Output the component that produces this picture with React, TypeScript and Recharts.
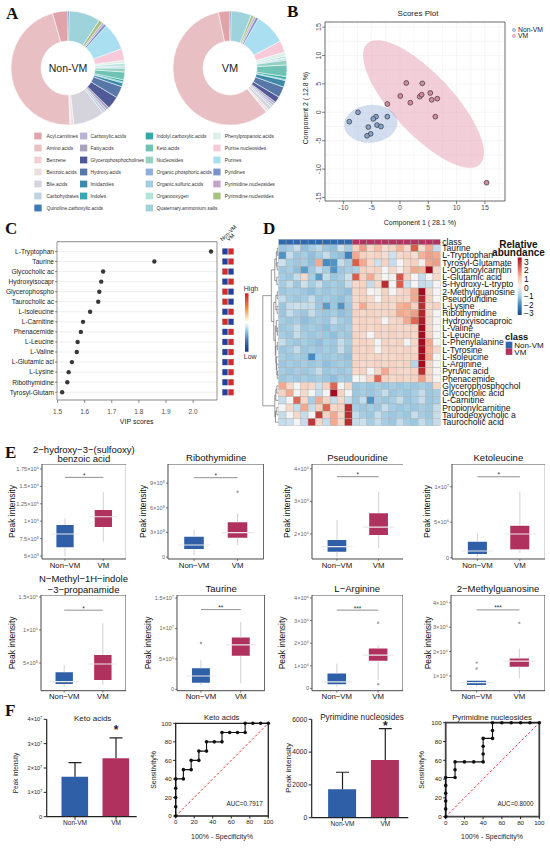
import React from 'react';
import {
  PieChart, Pie, Cell, ScatterChart, Scatter, XAxis, YAxis, CartesianGrid,
  ReferenceArea, ReferenceLine, ComposedChart, Bar, ErrorBar, LineChart, Line,
} from 'recharts';

const FONT = '"Liberation Sans", Arial, Helvetica, sans-serif';
const SERIF = '"Liberation Serif", "Times New Roman", serif';

// ---------------- Panel A data ----------------
const classNames = [
  'Acyl.carnitines', 'Amino.acids', 'Benzene', 'Benzoic.acids', 'Bile.acids', 'Carbohydrates',
  'Carboxylic.acids', 'Fatty.acids', 'Glycerophosphocholines', 'Hydroxy.acids', 'Imidazoles', 'Indoles',
  'Indolyl.carboxylic.acids', 'Keto.acids', 'Nucleosides', 'Organic.phosphoric.acids', 'Organic.sulfuric.acids',
  'Organooxygen', 'Phenylpropanoic.acids', 'Purine.nucleosides', 'Purines', 'Pyridines', 'Pyrimidine.nucleosides',
  'Pyrimidine.nucleotides', 'Quaternary.ammonium.salts', 'Quinoline.carboxylic.acids',
];
const classColors = [
  '#e0a3aa', '#e8c0c4', '#f2cfd2', '#ecdfe2', '#d5d3dc', '#bfd3e3',
  '#bbb3d6', '#a9a3bf', '#4f5a96', '#5677a8', '#3d8aa8', '#37a9b3',
  '#34aaa5', '#6fc2b4', '#94d1c3', '#8eaedb', '#a5cbe3',
  '#b3e3da', '#d9f1ea', '#f7c9d9', '#a9dff0', '#7b93c9', '#c5a3cb',
  '#a6c27f', '#9fd3dc', '#3b7cb8',
];
const nonVmShare = [4.4, 46.1, 0.3, 0.8, 8.9, 0.8, 0.6, 0.8, 3.6, 3.3, 1.1, 0.3, 0.6, 2.2, 1.1, 0.3, 0.3, 0.8, 0.8, 3.3, 7.8, 0.8, 0.6, 1.1, 8.9, 0.3];
const vmShare = [3.3, 57.8, 0.3, 0.6, 1.1, 0.6, 0.6, 0.6, 1.7, 3.1, 1.9, 0.3, 0.8, 3.3, 1.4, 0.3, 0.3, 0.6, 1.1, 3.3, 8.9, 0.8, 0.6, 0.8, 5.8, 0.3];
const legendColumns = [[0, 1, 2, 3, 4, 5, 25], [6, 7, 8, 9, 10, 11], [12, 13, 14, 15, 16, 17, 24], [18, 19, 20, 21, 22, 23]];

// ---------------- Panel B data ----------------
const nonVmScoreX = [-8.96, -7.42, -4.24, -4.72, -2.24, -5.6, -4.06, -3.36, -5.18, -5.83];
const nonVmScoreY = [-1.65, 0.0, -0.77, -1.17, -0.77, -2.6, -2.25, -2.5, -3.8, -4.15];
const vmScoreX = [-2.24, 0.05, 1.11, 1.82, 3.48, 3.83, 3.94, 5.35, 5.6, 6.59, 6.24, 15.3];
const vmScoreY = [1.46, 2.87, 5.16, 1.69, 2.75, 3.1, 5.1, 3.4, 2.2, 2.4, -0.77, -12.4];
const ellipseNonVm = { x: -5.16, y: -2.02, a: 4.73, b: 3.32, rot: -5 };
const ellipseVm = { x: 4.15, y: 1.46, a: 14.6, b: 5.3, rot: 47 };
const bXTicks = [-10, -5, 0, 5, 10, 15];
const bYTicks = [-15, -10, -5, 0, 5, 10, 15];
const bGridX = [-12.5, -10, -7.5, -5, -2.5, 0, 2.5, 5, 7.5, 10, 12.5, 15, 17.5];
const bGridY = [-15, -12.5, -10, -7.5, -5, -2.5, 0, 2.5, 5, 7.5, 10, 12.5, 15];
const B_X = [-13.25, 18.55];
const B_Y = [-15.62, 15.9];

// ---------------- Panel C data ----------------
const vipNames = ['L-Tryptophan', 'Taurine', 'Glycocholic ac', 'Hydroxyisocapr', 'Glycerophospho', 'Taurocholic ac', 'L-Isoleucine', 'L-Carnitine', 'Phenacemide', 'L-Leucine', 'L-Valine', 'L-Glutamic aci', 'L-Lysine', 'Ribothymidine', 'Tyrosyl-Glutam'];
const vipScores = [2.066, 1.857, 1.668, 1.661, 1.654, 1.65, 1.62, 1.594, 1.586, 1.574, 1.571, 1.553, 1.541, 1.536, 1.517];
const vipHigherIn = ['VM', 'VM', 'Non-VM', 'VM', 'Non-VM', 'Non-VM', 'VM', 'Non-VM', 'VM', 'VM', 'VM', 'VM', 'VM', 'VM', 'VM'];
const vipTicks = [1.5, 1.6, 1.7, 1.8, 1.9, 2.0];
const C_X = [1.498, 2.088];
const C_Y = [-0.97, 14.77];

// ---------------- Panel D data ----------------
const heatRowNames = ['Taurine', 'L-Tryptophan', 'Tyrosyl-Glutamate', 'L-Octanoylcarnitin', 'L-Glutamic acid', '5-Hydroxy-L-trypto', '2-Methylguanosine', 'Pseudouridine', 'L-Lysine', 'Ribothymidine', 'Hydroxyisocaproic', 'L-Valine', 'L-Leucine', 'L-Phenylalanine', 'L-Tyrosine', 'L-Isoleucine', 'L-Arginine', 'Pyruvic acid', 'Phenacemide', 'Glycerophosphochol', 'Glycocholic acid', 'L-Carnitine', 'Propionylcarnitine', 'Taurodeoxycholic a', 'Taurocholic acid'];
const heatNonVm = [
  [-1.1, -1.0, -0.6, -1.2, -1.0, -0.7, -1.1, -1.2, -0.5, -1.0],
  [-1.8, -0.6, -1.1, -1.0, -1.2, -1.0, -0.6, -1.1, -1.2, -2.0],
  [-0.5, -1.0, -1.1, -1.0, -1.2, 1.2, -1.9, -1.8, -0.6, -1.0],
  [-1.1, -1.0, -1.2, -1.7, -1.1, -0.6, -1.0, -1.8, -1.1, -1.0],
  [-1.0, -1.1, -0.6, 0.5, -1.0, -1.7, -0.6, -1.1, -1.0, -0.5],
  [-1.0, -0.6, -1.1, -0.5, -1.0, -0.6, -1.1, -1.0, -1.1, -0.6],
  [-1.1, -1.0, -1.0, -1.1, -1.2, -1.0, -1.1, -1.0, -1.1, -1.2],
  [-0.6, -1.0, -1.1, -1.0, -0.6, -1.1, -1.0, -1.1, -1.2, -1.0],
  [-1.1, -0.6, -0.5, -0.6, -0.6, -1.1, -1.7, -1.1, -1.8, -1.1],
  [-1.1, -0.6, -1.0, -1.1, -0.6, -1.0, -1.1, -1.0, -1.2, -1.1],
  [-1.0, -1.1, -1.0, -1.2, -1.1, -1.0, -1.1, -0.6, -1.0, -1.1],
  [-1.1, -1.0, -0.6, -1.1, -1.0, -1.1, -1.2, -1.0, -1.1, -1.0],
  [-1.0, -1.1, -0.6, -1.0, -1.1, -1.0, -1.1, -1.2, -1.0, -1.1],
  [-0.6, -1.0, -1.1, -1.0, -1.1, -1.2, -1.0, -1.1, -0.6, -1.0],
  [-1.1, -1.0, -0.6, -1.1, -1.0, -1.1, -1.0, -1.1, -0.6, -1.1],
  [-1.0, -1.1, -1.0, -1.1, -1.9, -1.0, -1.1, -1.0, -1.1, -1.2],
  [-1.1, -1.0, -1.1, -1.0, -1.1, -1.0, -1.2, -1.1, -1.0, -1.1],
  [-1.0, -1.1, -1.0, -1.1, -1.0, -0.6, -1.1, -1.0, -1.1, -1.0],
  [-1.1, -1.0, -1.1, -1.0, -1.1, -1.0, -1.1, -1.2, -1.0, -1.1],
  [1.2, 0.5, 0.0, 0.6, 0.5, -0.5, 0.6, 1.9, 0.0, 0.5],
  [0.6, 1.2, 0.0, 0.5, 0.0, -0.6, 0.0, 3.2, 0.6, 0.0],
  [-0.6, 0.0, 1.9, 0.5, -1.0, 1.2, 0.6, -0.6, 0.5, -0.6],
  [0.0, 0.5, -0.6, 1.2, -0.6, 0.6, 1.9, 0.5, 0.6, 2.6],
  [-0.6, 0.0, 0.5, -0.6, 0.0, 2.4, 0.6, 1.2, 0.5, 2.6],
  [-0.6, -0.5, 0.0, -0.6, 2.5, 0.5, -0.6, 1.2, 0.5, 2.6],
];
const heatVm = [
  [0.6, 1.3, 0.5, 1.0, 0.4, 0.6, 1.1, 0.5, 2.0, 0.4, 1.2, -0.6],
  [1.2, 0.6, 0.5, 0.6, 0.4, -0.5, 0.5, 0.6, 0.4, 1.1, 1.3, 1.2],
  [2.0, 1.2, 0.5, -0.5, 0.6, -0.6, 0.0, 0.5, 0.6, 0.1, 1.2, 1.3],
  [-0.9, 0.6, 0.5, 0.6, 0.0, 0.5, 0.1, 0.6, 1.2, 1.1, 3.3, 0.5],
  [2.0, 0.6, 1.2, 0.5, 0.0, 0.1, 2.1, 0.6, 0.0, -0.6, 0.0, 0.5],
  [0.5, 0.6, -0.6, 0.5, 2.6, 0.0, 2.0, -0.5, 0.0, -0.6, -0.5, 0.0],
  [0.5, 0.6, 0.0, 0.1, 0.6, 0.0, 0.5, 0.6, 1.2, 3.3, 0.5, 0.0],
  [0.5, 0.6, 0.5, 0.0, 0.6, 0.5, 0.6, 0.5, 1.2, 2.7, 0.6, 0.0],
  [0.5, 1.2, 0.6, 0.5, 0.6, 0.5, 1.1, 1.2, 0.6, 2.6, 0.5, 0.6],
  [0.6, 0.5, 0.6, 0.5, 0.5, 0.6, 1.2, 1.1, 1.3, 2.7, 0.5, 0.0],
  [0.5, 0.6, 0.5, 0.6, 0.0, 0.5, 0.6, 1.2, 1.9, 2.8, 0.5, 0.0],
  [0.5, 0.6, 0.5, 0.6, 0.5, 0.6, 0.5, 0.5, 0.6, 3.3, 0.5, 0.0],
  [0.6, 0.5, 0.0, 0.6, 0.5, 0.6, 0.5, 0.6, 0.5, 3.3, 0.6, 0.0],
  [0.5, 0.6, 0.5, 0.0, 0.6, 0.5, 0.6, 0.0, 0.5, 3.2, 1.2, 0.0],
  [0.6, 0.5, 0.6, 0.0, 0.5, 0.6, 0.5, 0.6, 0.5, 3.2, 1.1, 0.5],
  [0.5, 0.6, 0.5, 0.6, 0.5, 0.5, 0.6, 0.5, 0.6, 3.3, 1.2, 0.0],
  [0.6, 0.5, 0.5, 0.6, 0.5, 0.6, 0.5, 0.6, -0.8, 3.2, 0.5, 0.0],
  [0.5, 0.6, 0.0, 0.5, 1.2, 0.6, 0.5, 0.5, 0.6, 2.6, 0.5, 0.0],
  [0.0, 0.1, 0.5, 1.9, 0.6, 0.5, 0.6, 0.5, 0.6, 1.3, 0.5, 0.0],
  [-1.1, -1.0, -1.1, -1.0, -1.1, -1.0, -1.1, -1.0, -1.1, -1.0, -1.1, 0.5],
  [-1.1, -1.0, -1.1, -1.0, -0.6, -1.1, -1.0, -1.1, -1.0, -0.6, -1.1, -1.0],
  [-1.1, -0.6, -1.8, -1.0, -1.1, -1.0, -0.6, -1.1, -1.0, -0.6, -1.1, -1.0],
  [-1.0, -1.1, -1.0, -1.1, -0.6, -1.0, -1.1, -1.0, -1.1, -1.0, -1.1, -0.6],
  [-0.6, -1.0, -1.1, -0.6, -1.0, -1.1, -1.0, -1.1, -0.6, -1.0, -1.1, -0.6],
  [-0.6, -0.5, -1.0, -0.6, -1.0, -1.1, -0.6, -1.0, -1.1, -0.6, -1.0, -0.6],
];
const heatLegendTicks = [3, 2, 1, 0, -1, -2, -3];
const heatStops: [number, string][] = [[-3, '#1d4a87'], [-2, '#3d84bf'], [-1, '#a5cee4'], [0, '#f4f4f4'], [1, '#f8bba1'], [2, '#d95f4b'], [3, '#a10d1e']];
const classBarColors = ['#2f69ad', '#b2335f'];
type DNode = number | [number, DNode, DNode];
const dendroTop: DNode = [7, [3.5, [2, [1, 0, 1], [1.2, 2, 3]], [1.5, 4, 5]], [4.5, [2.5, [1, 6, 7], [1.2, 8, 9]], [3, [2, 10, [1, 11, 12]], [2.5, [1, 13, 14], [2, 15, [1.5, 16, [1, 17, 18]]]]]]];
const dendroBottom: DNode = [3.5, [2.5, [1.5, 19, 20], 21], [2.8, [1.5, 22, 23], 24]];
const dendroRoot: DNode = [15.5, dendroTop, dendroBottom];

// ---------------- Panel E data ----------------
const boxGroups = ['Non−VM', 'VM'];
const boxColors = ['#2f5fa7', '#b0305e'];
const boxTitles = [['2−hydroxy−3−(sulfooxy)', 'benzoic acid'], ['Ribothymidine'], ['Pseudouridine'], ['Ketoleucine'], ['N−Methyl−1H−indole', '−3−propanamide'], ['Taurine'], ['L−Arginine'], ['2−Methylguanosine']];
// [min, q1, median, q3, max]
const hsbaStats = [[5.0e5, 6.25e5, 8.16e5, 9.45e5, 1.04e6], [7.05e5, 9.17e5, 1.065e6, 1.16e6, 1.42e6]];
const ribStats = [[0.25e5, 0.98e5, 1.46e5, 2.48e5, 3.3e5], [1.46e5, 2.36e5, 2.97e5, 4.23e5, 5.3e5]];
const pseStats = [[1.28e6, 1.455e6, 1.61e6, 1.815e6, 2.43e6], [1.56e6, 1.97e6, 2.21e6, 2.64e6, 3.3e6]];
const ketStats = [[0.14e6, 0.52e6, 0.94e6, 2.25e6, 3.4e6], [0.7e6, 1.18e6, 3.34e6, 4.5e6, 9.3e6]];
const nmiStats = [[1.4e5, 1.82e5, 2.17e5, 3.6e5, 4.7e5], [1.67e5, 2.42e5, 4.85e5, 6.2e5, 1.1e6]];
const tauStats = [[0.7e6, 1.09e6, 2.19e6, 3.46e6, 4.8e6], [1.0e6, 5.5e6, 7.3e6, 8.5e6, 11.1e6]];
const argStats = [[0.07e6, 0.19e6, 0.29e6, 0.66e6, 1.1e6], [0.37e6, 1.22e6, 1.47e6, 1.77e6, 1.92e6]];
const mguStats = [[0.56e4, 0.63e4, 0.73e4, 0.81e4, 0.84e4], [0.9e4, 1.38e4, 1.61e4, 1.72e4, 2.13e4]];
const boxStats = [hsbaStats, ribStats, pseStats, ketStats, nmiStats, tauStats, argStats, mguStats];
const boxOutliers: number[][][] = [[], [[1, 7.96e5]], [], [], [], [[0, 7.6e6]], [[1, 2.9e6], [1, 0.19e6]], [[0, 1.55e4], [0, 1.31e4], [1, 3.18e4]]];
const boxSig = [1.63e6, 9.67e5, 3.76e6, 11.4e6, 1.3e6, 13.1e6, 3.46e6, 3.71e4];
const boxStars = ['*', '*', '*', '*', '*', '**', '***', '***'];
const boxDomains = [[4.57e5, 1.822e6], [-0.24e5, 11.34e5], [1.23e6, 4.15e6], [-0.18e6, 13.2e6], [0.08e6, 1.53e6], [-0.23e6, 15.5e6], [-0.1e6, 4.13e6], [0.4e4, 4.32e4]];
const boxTicks = [[5e5, 7.5e5, 1e6, 1.25e6, 1.5e6, 1.75e6], [0, 3e5, 6e5, 9e5], [2e6, 3e6, 4e6], [0, 5e6, 1e7], [5e5, 1e6, 1.5e6], [0, 5e6, 1e7, 1.5e7], [0, 1e6, 2e6, 3e6, 4e6], [1e4, 2e4, 3e4, 4e4]];
const boxPlots = [
  { l: 41.7, r: 126, t: 464, b: 559 }, { l: 168.3, r: 264, t: 464, b: 559 },
  { l: 311.7, r: 403.3, t: 464, b: 559 }, { l: 451.7, r: 545, t: 464, b: 559 },
  { l: 41, r: 126, t: 595, b: 690.7 }, { l: 177.3, r: 265, t: 595, b: 690.7 },
  { l: 311.7, r: 402.7, t: 595, b: 690.7 }, { l: 451, r: 545, t: 595, b: 690.7 },
];
const boxYLabelX = [11.7, 143.3, 286.7, 426.7, 11.7, 148.3, 281.7, 428.3];

// ---------------- Panel F data ----------------
const fGroups = ['Non-VM', 'VM'];
const ketoMean = [1.64e7, 2.4e7];
const ketoSd = [0.58e7, 0.84e7];
const ketoStarY = 3.68e7;
const pyrMean = [1730, 3520];
const pyrSd = [1040, 1910];
const pyrStarY = 5756;
const rocKetoFpr = [0, 0, 0, 0, 0, 8.3, 8.3, 16.7, 16.7, 25, 25, 33.3, 33.3, 41.7, 50, 50, 58.3, 66.7, 75, 75, 83.3, 91.7, 100];
const rocKetoTpr = [0, 10, 20, 30, 40, 40, 50, 50, 60, 60, 70, 70, 80, 80, 80, 90, 90, 90, 90, 100, 100, 100, 100];
const rocPyrFpr = [0, 0, 0, 0, 0, 0, 10, 10, 10, 20, 30, 40, 40, 40, 40, 50, 50, 50, 60, 70, 80, 90, 100];
const rocPyrTpr = [0, 8.3, 16.7, 25, 33.3, 41.7, 41.7, 50, 58.3, 58.3, 58.3, 58.3, 66.7, 75, 83.3, 83.3, 91.7, 100, 100, 100, 100, 100, 100];
const rocTicks = [0, 20, 40, 60, 80, 100];

// ---------------- helpers ----------------
const SUPERS: any = { '0': '⁰', '1': '¹', '2': '²', '3': '³', '4': '⁴', '5': '⁵', '6': '⁶', '7': '⁷', '8': '⁸', '9': '⁹', '-': '⁻' };
function sci(v: number): string {
  if (v === 0) return '0';
  const e = Math.floor(Math.log10(Math.abs(v)) + 1e-9);
  const m = Math.round((v / Math.pow(10, e)) * 100) / 100;
  const sup = String(e).split('').map((c) => SUPERS[c]).join('');
  return `${m}×10${sup}`;
}
function hexToRgb(h: string) { return [parseInt(h.slice(1, 3), 16), parseInt(h.slice(3, 5), 16), parseInt(h.slice(5, 7), 16)]; }
function heatColor(v: number): string {
  const x = Math.max(-3, Math.min(3, v));
  for (let i = 0; i < heatStops.length - 1; i++) {
    const [a, ca] = heatStops[i];
    const [b, cb] = heatStops[i + 1];
    if (x >= a && x <= b) {
      const t = (x - a) / (b - a);
      const A = hexToRgb(ca), B = hexToRgb(cb);
      const c = A.map((q, k) => Math.round(q + (B[k] - q) * t));
      return `rgb(${c[0]},${c[1]},${c[2]})`;
    }
  }
  return heatStops[heatStops.length - 1][1];
}

const Abs = ({ l, t, w, h, children }: any) => (
  <div style={{ position: 'absolute', left: l, top: t, width: w, height: h }}>{children}</div>
);

const SciTick = (props: any) => {
  const { x, y, payload, fs = 5.8, fill = '#333' } = props;
  return (
    <text x={x} y={y} dy={fs * 0.35} textAnchor="end" fontSize={fs} fill={fill} fontFamily={FONT}>{sci(payload.value)}</text>
  );
};
const RotTick = (p: any) => (
  <text x={0} y={0} transform={`translate(${p.x},${p.y}) rotate(-90)`} textAnchor="middle" fontSize={7} fill="#4d4d4d" fontFamily={FONT}>{p.payload.value}</text>
);
const NameTick = (props: any) => {
  const { x, y, payload, names, anchor = 'end', fs = 7, fill = '#222' } = props;
  return (
    <text x={x} y={y} dy={fs * 0.35} textAnchor={anchor} fontSize={fs} fill={fill} fontFamily={FONT}>{names[payload.value]}</text>
  );
};

// ---------------- Panel A ----------------
function PanelA() {
  const nv = classNames.map((n, i) => ({ name: n, value: nonVmShare[i] }));
  const vm = classNames.map((n, i) => ({ name: n, value: vmShare[i] }));
  return (
    <Abs l={0} t={0} w={300} h={130}>
      <PieChart width={300} height={130} margin={{ top: 0, right: 0, bottom: 0, left: 0 }}>
        <Pie data={nv} dataKey="value" nameKey="name" cx={68} cy={68} innerRadius={27} outerRadius={57} startAngle={90} endAngle={450} stroke="#ffffff" strokeWidth={0.5} isAnimationActive={false}>
          {nv.map((d, i) => <Cell key={i} fill={classColors[i]} />)}
        </Pie>
        <Pie data={vm} dataKey="value" nameKey="name" cx={230} cy={68} innerRadius={27} outerRadius={57} startAngle={90} endAngle={450} stroke="#ffffff" strokeWidth={0.5} isAnimationActive={false}>
          {vm.map((d, i) => <Cell key={i} fill={classColors[i]} />)}
        </Pie>
      </PieChart>
    </Abs>
  );
}

// ---------------- Panel B ----------------
function PanelB() {
  const nv = nonVmScoreX.map((x, i) => ({ x, y: nonVmScoreY[i] }));
  const vm = vmScoreX.map((x, i) => ({ x, y: vmScoreY[i] }));
  const kx = 180 / (B_X[1] - B_X[0]);
  const ky = 179 / (B_Y[1] - B_Y[0]);
  const ell = (fill: string, op: number) => (p: any) => (
    <ellipse cx={p.cx} cy={p.cy} rx={p.payload.a * kx} ry={p.payload.b * ky} transform={`rotate(${p.payload.rot} ${p.cx} ${p.cy})`} fill={fill} fillOpacity={op} />
  );
  const dot = (fill: string) => (p: any) => <circle cx={p.cx} cy={p.cy} r={2.4} fill={fill} stroke="#333" strokeWidth={0.7} />;
  return (
    <Abs l={280} t={0} w={270} h={235}>
      <ScatterChart width={270} height={235} margin={{ top: 22, right: 45, bottom: 14, left: 15 }}>
        <CartesianGrid stroke="#ececec" strokeWidth={0.5} verticalValues={bGridX} horizontalValues={bGridY} />
        <XAxis type="number" dataKey="x" domain={B_X} ticks={bXTicks} allowDataOverflow height={20} tickSize={3} tickMargin={1.5} axisLine={false} tickLine={{ stroke: '#333', strokeWidth: 0.6 }} tick={{ fontSize: 7, fill: '#4d4d4d', fontFamily: FONT }} interval={0} />
        <YAxis type="number" dataKey="y" domain={B_Y} ticks={bYTicks} allowDataOverflow width={30} tickSize={3} tickMargin={1} axisLine={false} tickLine={{ stroke: '#333', strokeWidth: 0.6 }} tick={<RotTick />} interval={0} />
        <Scatter data={[ellipseVm]} shape={ell('#e8a8b8', 0.55)} isAnimationActive={false} />
        <Scatter data={[ellipseNonVm]} shape={ell('#9bb5dc', 0.45)} isAnimationActive={false} />
        <Scatter data={nv} shape={dot('#86a2cf')} isAnimationActive={false} />
        <Scatter data={vm} shape={dot('#d98aa2')} isAnimationActive={false} />
        <ReferenceArea x1={B_X[0]} x2={B_X[1]} y1={B_Y[0]} y2={B_Y[1]} fill="none" stroke="#444" strokeWidth={0.8} ifOverflow="visible" />
      </ScatterChart>
    </Abs>
  );
}

// ---------------- Panel C ----------------
function PanelC() {
  const vipData = vipScores.map((v, i) => ({ vip: v, row: i }));
  const squares = vipHigherIn.flatMap((g, i) => [
    { col: 0, row: i, high: g === 'Non-VM' },
    { col: 1, row: i, high: g === 'VM' },
  ]);
  const rows = vipNames.map((_, i) => i);
  return (
    <>
      <Abs l={0} t={230} w={245} h={195}>
        <ScatterChart width={245} height={195} margin={{ top: 11.7, right: 28, bottom: 0, left: 0 }}>
          <CartesianGrid vertical={false} stroke="#e4e4e4" strokeWidth={0.6} />
          <XAxis type="number" dataKey="vip" domain={C_X} ticks={vipTicks} allowDataOverflow height={25} tickSize={3} tickMargin={6} axisLine={false} tickLine={{ stroke: '#444', strokeWidth: 0.6 }} tick={{ fontSize: 6.5, fill: '#4d4d4d', fontFamily: FONT }} tickFormatter={(v: number) => v.toFixed(1)} interval={0} />
          <YAxis type="number" dataKey="row" domain={C_Y} ticks={rows} reversed allowDataOverflow width={57} tickSize={2} tickMargin={1} axisLine={false} tickLine={{ stroke: '#444', strokeWidth: 0.6 }} tick={<NameTick names={vipNames} anchor="end" fs={6.6} fill="#222" />} interval={0} />
          <ReferenceArea x1={C_X[0]} x2={C_X[1]} y1={C_Y[0]} y2={C_Y[1]} fill="none" stroke="#666" strokeWidth={0.7} ifOverflow="visible" />
          <Scatter data={vipData} shape={(p: any) => <circle cx={p.cx} cy={p.cy} r={2.2} fill="#383838" />} isAnimationActive={false} />
        </ScatterChart>
      </Abs>
      <Abs l={219.3} t={230} w={18} h={195}>
        <ScatterChart width={18} height={195} margin={{ top: 11.7, right: 0, bottom: 25, left: 0 }}>
          <XAxis type="number" dataKey="col" domain={[-1, 2]} hide />
          <YAxis type="number" dataKey="row" domain={C_Y} reversed hide />
          <Scatter data={squares} isAnimationActive={false} shape={(p: any) => (
            <rect x={p.cx - 2.7} y={p.cy - 3} width={5.4} height={6} fill={p.payload.high ? '#d42a2a' : '#2240a0'} stroke="#999" strokeWidth={0.2} />
          )} />
        </ScatterChart>
      </Abs>
    </>
  );
}

// ---------------- Panel D ----------------
const CLASS_ROW = -0.845;
function PanelD() {
  const cells = heatRowNames.flatMap((_, r) => [...heatNonVm[r], ...heatVm[r]].map((v, c) => ({ col: c, row: r, v })));
  const classCells = Array.from({ length: 22 }, (_, c) => ({ col: c, row: CLASS_ROW, g: c < heatNonVm[0].length ? 0 : 1 }));
  const rows = heatRowNames.map((_, i) => i);
  const cw = 161.6 / 22;
  const ch = 7.25;
  return (
    <Abs l={262} t={230} w={268.3} h={196}>
      <ScatterChart width={268.3} height={196} margin={{ top: 7.975, right: 0, bottom: 0.25, left: 16.7 }}>
        <XAxis type="number" dataKey="col" domain={[-0.5, 21.5]} hide />
        <YAxis type="number" dataKey="row" orientation="right" domain={[-1.4, 24.5]} ticks={rows} reversed width={90} tickSize={0} tickMargin={2} axisLine={false} tickLine={false} tick={<NameTick names={heatRowNames} anchor="start" fs={8.6} fill="#111" />} interval={0} />
        <Scatter data={cells} isAnimationActive={false} shape={(p: any) => (
          <rect x={p.cx - cw / 2} y={p.cy - ch / 2} width={cw} height={ch} fill={heatColor(p.payload.v)} stroke="#a9a9a9" strokeWidth={0.35} />
        )} />
        <Scatter data={classCells} isAnimationActive={false} shape={(p: any) => (
          <rect x={p.cx - cw / 2} y={p.cy - 2.65} width={cw} height={5.3} fill={classBarColors[p.payload.g]} stroke="#a9a9a9" strokeWidth={0.35} />
        )} />
      </ScatterChart>
    </Abs>
  );
}

// ---------------- Panel E ----------------
function BoxPanel({ idx }: { idx: number }) {
  const p = boxPlots[idx];
  const stats = boxStats[idx];
  const YW = 32;
  const XH = 16;
  const left = p.l - YW;
  const width = p.r - left;
  const height = p.b - p.t + XH;
  const unit = (p.r - p.l) / 2.2;
  const boxW = 0.75 * unit;
  const data = stats.map((s, g) => ({ x: g + 1, box: [s[1], s[3]], q1: s[1], q3: s[3], med: s[2], up: [0, s[4] - s[3]], lo: [s[1] - s[0], 0] }));
  const outs = boxOutliers[idx].map(([g, v]) => ({ x: g + 1, y: v }));
  const sigPt = [{ x: 1.5, y: boxSig[idx] }];
  const dom = boxDomains[idx];
  return (
    <Abs l={left} t={p.t} w={width} h={height}>
      <ComposedChart width={width} height={height} data={data} margin={{ top: 0, right: 0, bottom: 0, left: 0 }}>
        <XAxis type="number" dataKey="x" domain={[0.4, 2.6]} ticks={[1, 2]} allowDataOverflow height={XH} tickSize={2} tickMargin={1} axisLine={false} tickLine={{ stroke: '#333', strokeWidth: 0.6 }} tick={{ fontSize: 7.8, fill: '#111', fontFamily: FONT }} tickFormatter={(v: number) => boxGroups[v - 1]} interval={0} />
        <YAxis type="number" domain={dom} ticks={boxTicks[idx]} allowDataOverflow width={YW} tickSize={2} tickMargin={1} axisLine={false} tickLine={{ stroke: '#333', strokeWidth: 0.6 }} tick={<SciTick fs={5.6} />} interval={0} />
        <Scatter dataKey="q3" shape={() => <g />} isAnimationActive={false}>
          <ErrorBar dataKey="up" direction="y" width={0} stroke="#cccccc" strokeWidth={0.9} />
        </Scatter>
        <Scatter dataKey="q1" shape={() => <g />} isAnimationActive={false}>
          <ErrorBar dataKey="lo" direction="y" width={0} stroke="#cccccc" strokeWidth={0.9} />
        </Scatter>
        <Bar dataKey="box" barSize={boxW} isAnimationActive={false}>
          {data.map((d, i) => <Cell key={i} fill={boxColors[i]} />)}
        </Bar>
        <Scatter dataKey="med" isAnimationActive={false} shape={(s: any) => (
          <line x1={s.cx - boxW / 2} x2={s.cx + boxW / 2} y1={s.cy} y2={s.cy} stroke="#e9e9e9" strokeWidth={1.1} />
        )} />
        <Scatter data={outs} dataKey="y" isAnimationActive={false} shape={(s: any) => <circle cx={s.cx} cy={s.cy} r={1.2} fill="#a6a6a6" />} />
        <ReferenceLine segment={[{ x: 1, y: boxSig[idx] }, { x: 2, y: boxSig[idx] }]} stroke="#444" strokeWidth={0.6} />
        <Scatter data={sigPt} dataKey="y" isAnimationActive={false} shape={(s: any) => (
          <text x={s.cx} y={s.cy + 0.5} textAnchor="middle" fontSize={6.5} fill="#333" fontFamily={FONT}>{boxStars[idx]}</text>
        )} />
        <ReferenceArea x1={0.4} x2={2.6} y1={dom[0]} y2={dom[1]} fill="none" stroke="#333" strokeWidth={0.9} ifOverflow="visible" />
      </ComposedChart>
    </Abs>
  );
}

// ---------------- Panel F ----------------
function BarPanel({ l, t, w, h, margin, yW, mean, sd, starY, domain, ticks, pad, barW, sciTicks, tickFs }: any) {
  const data = fGroups.map((g, i) => ({ g, mean: mean[i], err: [0, sd[i]], top: mean[i] + sd[i] }));
  const star = [{ g: fGroups[1], s: starY }];
  return (
    <Abs l={l} t={t} w={w} h={h}>
      <ComposedChart width={w} height={h} data={data} margin={margin}>
        <XAxis dataKey="g" type="category" allowDuplicatedCategory={false} padding={pad} height={14} tickSize={3} tickMargin={1} axisLine={{ stroke: '#222', strokeWidth: 1.2 }} tickLine={{ stroke: '#222', strokeWidth: 1 }} tick={{ fontSize: 6.5, fill: '#222', fontFamily: FONT }} interval={0} />
        <YAxis type="number" domain={domain} ticks={ticks} allowDataOverflow width={yW} tickSize={3} tickMargin={1.5} axisLine={{ stroke: '#222', strokeWidth: 1.2 }} tickLine={{ stroke: '#222', strokeWidth: 1 }}
          tick={sciTicks ? <SciTick fs={tickFs} fill="#222" /> : { fontSize: tickFs, fill: '#222', fontFamily: FONT }} interval={0} />
        <Bar dataKey="mean" barSize={barW} isAnimationActive={false}>
          {data.map((d, i) => <Cell key={i} fill={boxColors[i]} />)}
        </Bar>
        <Scatter dataKey="mean" shape={() => <g />} isAnimationActive={false}>
          <ErrorBar dataKey="err" direction="y" width={0} stroke="#222" strokeWidth={1.2} />
        </Scatter>
        <Scatter dataKey="top" isAnimationActive={false} shape={(s: any) => (
          <line x1={s.cx - 6.5} x2={s.cx + 6.5} y1={s.cy} y2={s.cy} stroke="#222" strokeWidth={1.2} />
        )} />
        <Scatter data={star} dataKey="s" isAnimationActive={false} shape={(s: any) => (
          <text x={s.cx} y={s.cy + 6.5} textAnchor="middle" fontSize={12} fontWeight="bold" fill="#222" fontFamily={FONT}>*</text>
        )} />
      </ComposedChart>
    </Abs>
  );
}

function RocPanel({ l, t, w, h, margin, fpr, tpr, frame, frameW }: any) {
  const data = fpr.map((f: number, i: number) => ({ fpr: f, tpr: tpr[i] }));
  return (
    <Abs l={l} t={t} w={w} h={h}>
      <LineChart width={w} height={h} data={data} margin={margin}>
        <XAxis type="number" dataKey="fpr" domain={[0, 100]} ticks={rocTicks} height={14} tickSize={2.5} tickMargin={1} axisLine={false} tickLine={{ stroke: '#222', strokeWidth: 1 }} tick={{ fontSize: 6.2, fill: '#222', fontFamily: FONT }} interval={0} />
        <YAxis type="number" domain={[0, 100]} ticks={rocTicks} width={30.7} tickSize={2.5} tickMargin={1.5} axisLine={false} tickLine={{ stroke: '#222', strokeWidth: 1 }} tick={{ fontSize: 6.2, fill: '#222', fontFamily: FONT }} interval={0} />
        <ReferenceArea x1={0} x2={100} y1={0} y2={100} fill="none" stroke={frame} strokeWidth={frameW} ifOverflow="visible" />
        <ReferenceLine segment={[{ x: 0, y: 0 }, { x: 100, y: 100 }]} stroke="#e8302e" strokeWidth={1} strokeDasharray="2.5 2" />
        <Line dataKey="tpr" type="linear" stroke="#111" strokeWidth={1.1} dot={{ r: 1.8, fill: '#111', stroke: '#111', strokeWidth: 0 }} isAnimationActive={false} />
      </LineChart>
    </Abs>
  );
}

// ---------------- Overlay (titles, legends, annotations) ----------------
function dendro(node: DNode, rowY: (r: number) => number, xLeaf: number, segs: any[]): { x: number; y: number } {
  if (typeof node === 'number') return { x: xLeaf, y: rowY(node) };
  const [h, a, b] = node;
  const A = dendro(a, rowY, xLeaf, segs);
  const B = dendro(b, rowY, xLeaf, segs);
  const x = xLeaf - h;
  segs.push([x, A.y, x, B.y], [x, A.y, A.x, A.y], [x, B.y, B.x, B.y]);
  return { x, y: (A.y + B.y) / 2 };
}

function Overlay() {
  const legRowY = [136, 148, 160, 172, 184, 196, 208];
  const swX = [34.3, 80, 145.7, 213.3];
  const txX = [46.5, 90.5, 156.5, 224.8];
  const rowY = (r: number) => 244.5 + (r + 0.5) * 7.25;
  const segs: any[] = [];
  dendro(dendroRoot, rowY, 278.3, segs);
  const vlab = (x: number, y: number, txt: string, fs: number, extra: any = {}) => (
    <text x={0} y={0} transform={`translate(${x},${y}) rotate(-90)`} textAnchor="middle" dominantBaseline="central" fontSize={fs} fill="#222" fontFamily={FONT} {...extra}>{txt}</text>
  );
  const letter = (x: number, y: number, s: string) => (
    <text x={x} y={y} fontFamily={SERIF} fontWeight="bold" fontSize={17} fill="#111">{s}</text>
  );
  return (
    <svg width={550} height={853} style={{ position: 'absolute', left: 0, top: 0, pointerEvents: 'none' }}>
      <defs>
        <linearGradient id="vipGrad" x1="0" y1="0" x2="0" y2="1">
          <stop offset="0" stopColor="#d7191c" />
          <stop offset="0.25" stopColor="#f08a3c" />
          <stop offset="0.42" stopColor="#fde9a8" />
          <stop offset="0.5" stopColor="#ffffff" />
          <stop offset="0.6" stopColor="#b9dcec" />
          <stop offset="0.8" stopColor="#3a7cc0" />
          <stop offset="1" stopColor="#1b2a8c" />
        </linearGradient>
        <linearGradient id="heatGrad" x1="0" y1="0" x2="0" y2="1">
          {[...heatStops].reverse().map(([v, c], i) => <stop key={i} offset={(3 - v) / 6} stopColor={c} />)}
        </linearGradient>
      </defs>
      {letter(6, 19, 'A')}
      {letter(287, 17, 'B')}
      {letter(5, 233.5, 'C')}
      {letter(263, 233.5, 'D')}
      {letter(5, 457.5, 'E')}
      {letter(5, 715.5, 'F')}

      {/* A */}
      <text x={68} y={71.8} textAnchor="middle" fontSize={10.5} fill="#222" fontFamily={FONT}>Non-VM</text>
      <text x={230} y={72} textAnchor="middle" fontSize={11} fill="#222" fontFamily={FONT}>VM</text>
      {legendColumns.map((col, c) => col.map((idx, r) => (
        <g key={`${c}-${r}`}>
          <rect x={swX[c]} y={legRowY[r] - 3.4} width={7.3} height={6.8} fill={classColors[idx]} />
          <text x={txX[c]} y={legRowY[r] + 1.7} fontSize={4.9} fill="#333" fontFamily={FONT}>{classNames[idx]}</text>
        </g>
      )))}

      {/* B */}
      <text x={418} y={15.5} textAnchor="middle" fontSize={8} fill="#222" fontFamily={FONT}>Scores Plot</text>
      <text x={420} y={224.5} textAnchor="middle" fontSize={7} fill="#222" fontFamily={FONT}>Component 1 ( 28.1 %)</text>
      {vlab(305.7, 108, 'Component 2 ( 12.8 %)', 7)}
      <circle cx={514} cy={30} r={1.7} fill="#b8cbe6" stroke="#7f9ccc" strokeWidth={0.5} />
      <circle cx={514} cy={36} r={1.7} fill="#efbfcc" stroke="#d4869c" strokeWidth={0.5} />
      <text x={518} y={32.3} fontSize={6.8} fill="#222" fontFamily={FONT}>Non-VM</text>
      <text x={518} y={38.3} fontSize={6.8} fill="#222" fontFamily={FONT}>VM</text>

      {/* C */}
      <text x={136.7} y={424} textAnchor="middle" fontSize={7} fill="#222" fontFamily={FONT}>VIP scores</text>
      <text x={0} y={0} transform="translate(222.5,241.5) rotate(-45)" fontSize={5.5} fill="#222" fontFamily={FONT}>Non-VM</text>
      <text x={0} y={0} transform="translate(228.8,241.5) rotate(-45)" fontSize={5.5} fill="#222" fontFamily={FONT}>VM</text>
      <rect x={245} y={293.3} width={3.5} height={58.4} fill="url(#vipGrad)" />
      <text x={243.8} y={290.5} fontSize={7} fill="#333" fontFamily={FONT}>High</text>
      <text x={243.8} y={358.8} fontSize={7} fill="#333" fontFamily={FONT}>Low</text>

      {/* D */}
      {segs.map((s, i) => <line key={i} x1={s[0]} y1={s[1]} x2={s[2]} y2={s[3]} stroke="#555" strokeWidth={0.6} />)}
      <text x={442.3} y={244.8} fontSize={8.6} fill="#111" fontFamily={FONT}>class</text>
      <text x={518.5} y={247.5} textAnchor="middle" fontSize={10} fontWeight="bold" fill="#111" fontFamily={FONT}>Relative</text>
      <text x={518.5} y={256} textAnchor="middle" fontSize={10} fontWeight="bold" fill="#111" fontFamily={FONT}>abundance</text>
      <rect x={517.7} y={257.5} width={4} height={57.5} fill="url(#heatGrad)" />
      {heatLegendTicks.map((v, i) => (
        <text key={i} x={524} y={261.7 + i * 8.6 + 3} fontSize={8.4} fill="#111" fontFamily={FONT}>{v < 0 ? `−${-v}` : `${v}`}</text>
      ))}
      <text x={505} y={339.5} fontSize={9.3} fontWeight="bold" fill="#111" fontFamily={FONT}>class</text>
      <rect x={505.7} y={341.7} width={6.6} height={6.6} fill={classBarColors[0]} />
      <rect x={505.7} y={348.3} width={6.6} height={6.6} fill={classBarColors[1]} />
      <text x={514.3} y={347.9} fontSize={8} fill="#111" fontFamily={FONT}>Non-VM</text>
      <text x={514.3} y={354.6} fontSize={8} fill="#111" fontFamily={FONT}>VM</text>

      {/* E */}
      {boxPlots.map((p, i) => {
        const cx = (p.l + p.r) / 2;
        const lines = boxTitles[i];
        const row1 = i < 4;
        const base = row1 ? 461 : 591.6;
        return (
          <g key={i}>
            {lines.length === 2 ? (
              <>
                <text x={cx} y={row1 ? 453.2 : 582.3} textAnchor="middle" fontSize={9.5} fill="#111" fontFamily={FONT}>{lines[0]}</text>
                <text x={cx} y={row1 ? 461.9 : 592.6} textAnchor="middle" fontSize={9.5} fill="#111" fontFamily={FONT}>{lines[1]}</text>
              </>
            ) : (
              <text x={cx} y={base} textAnchor="middle" fontSize={9.5} fill="#111" fontFamily={FONT}>{lines[0]}</text>
            )}
            {vlab(boxYLabelX[i], (p.t + p.b) / 2, 'Peak intensity', 8.5, { fill: '#111' })}
          </g>
        );
      })}

      {/* F */}
      <text x={92.7} y={721.2} textAnchor="middle" fontSize={8} fill="#222" fontFamily={FONT}>Keto acids</text>
      {vlab(15, 773, 'Peak intensity', 6.5)}
      <text x={221.7} y={719.5} textAnchor="middle" fontSize={7.6} fill="#222" fontFamily={FONT}>Keto acids</text>
      {vlab(153.3, 770, 'Sensitivity%', 7)}
      <text x={222} y={838.5} textAnchor="middle" fontSize={7} fill="#222" fontFamily={FONT}>100% - Specificity%</text>
      <text x={244.7} y={805.5} textAnchor="middle" fontSize={6.3} fill="#222" fontFamily={FONT}>AUC=0.7917</text>

      <text x={362} y={719.5} textAnchor="middle" fontSize={8.2} fill="#222" fontFamily={FONT}>Pyrimidine nucleosides</text>
      {vlab(288.3, 768, 'Peak intensity', 8)}
      <text x={492} y={720} textAnchor="middle" fontSize={7.8} fill="#222" fontFamily={FONT}>Pyrimidine nucleosides</text>
      {vlab(421.7, 770, 'Sensitivity%', 7)}
      <text x={492} y={838.5} textAnchor="middle" fontSize={7} fill="#222" fontFamily={FONT}>100% - Specificity%</text>
      <text x={515.5} y={806} textAnchor="middle" fontSize={6.3} fill="#222" fontFamily={FONT}>AUC=0.8000</text>
    </svg>
  );
}

export default function App() {
  return (
    <div style={{ position: 'absolute', left: 0, top: 0, width: 550, height: 853, background: '#ffffff', overflow: 'hidden', fontFamily: FONT }}>
      <PanelA />
      <PanelB />
      <PanelC />
      <PanelD />
      {boxPlots.map((p, i) => <BoxPanel key={i} idx={i} />)}
      <BarPanel l={0} t={700} w={145} h={140} margin={{ top: 19.3, right: 8.3, bottom: 9.3, left: 0 }} yW={46.7}
        mean={ketoMean} sd={ketoSd} starY={ketoStarY} domain={[0, 4e7]} ticks={[0, 1e7, 2e7, 3e7, 4e7]} pad={{ left: 7.8, right: 0.2 }} barW={26.6} sciTicks tickFs={5.6} />
      <BarPanel l={270} t={700} w={140} h={140} margin={{ top: 19.3, right: 1.7, bottom: 8.3, left: 0 }} yW={41.7}
        mean={pyrMean} sd={pyrSd} starY={pyrStarY} domain={[0, 6000]} ticks={[0, 2000, 4000, 6000]} pad={{ left: 9.4, right: 1.6 }} barW={28} sciTicks={false} tickFs={6.7} />
      <RocPanel l={145} t={705} w={130} h={148} margin={{ top: 18.3, right: 6.7, bottom: 23, left: 0 }} fpr={rocKetoFpr} tpr={rocKetoTpr} frame="#222" frameW={1.3} />
      <RocPanel l={415} t={705} w={135} h={148} margin={{ top: 17.7, right: 10.7, bottom: 22.3, left: 0 }} fpr={rocPyrFpr} tpr={rocPyrTpr} frame="#444" frameW={1.8} />
      <Overlay />
    </div>
  );
}
